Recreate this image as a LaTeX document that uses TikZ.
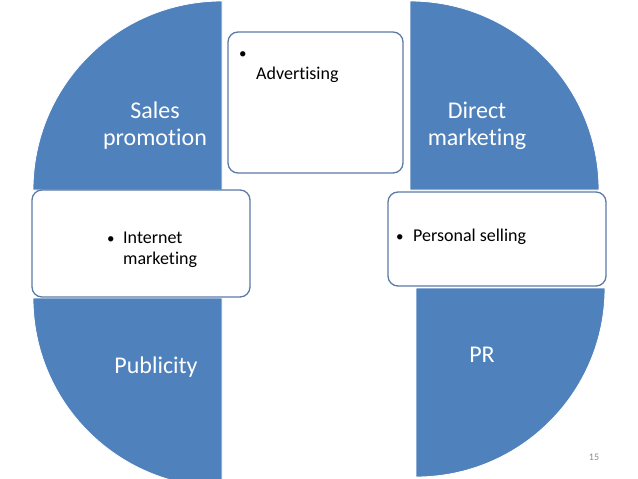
\documentclass[tikz,border=0pt]{standalone}
\usepackage{fontspec}
\setmainfont{Carlito}[Ligatures={NoCommon},RawFeature={-liga;-clig}]
\definecolor{qblue}{RGB}{79,129,189}
\definecolor{bline}{RGB}{92,122,166}
\definecolor{pnum}{RGB}{140,140,140}
\begin{document}
\begin{tikzpicture}[x=1pt,y=-1pt,
  quarter/.style={fill=qblue,draw=white,line width=0.8pt},
  itembox/.style={draw=bline,fill=white,line width=1.3pt,rounded corners=10pt},
  bigtext/.style={text=white,font=\fontsize{24}{27}\selectfont,inner sep=0pt,align=center},
  itemtext/.style={text=black,font=\fontsize{18}{21}\selectfont,inner sep=0pt,align=left,anchor=north west}]
\useasboundingbox (0,0) rectangle (638,479);
\clip (0,0) rectangle (638,479);
% quarter circles
\path[quarter] (222,190) -- (33,190) arc[start angle=180,end angle=270,radius=189] -- cycle;
\path[quarter] (410,190) -- (410,1) arc[start angle=270,end angle=360,radius=189] -- cycle;
\path[quarter] (222,298) -- (33,298) arc[start angle=180,end angle=90,radius=189] -- cycle;
\path[quarter] (416,288) -- (605,288) arc[start angle=0,end angle=90,radius=189] -- cycle;
% boxes
\draw[itembox] (228,32) rectangle (403,173);
\draw[itembox] (32,190) rectangle (250,297);
\draw[itembox] (388,192) rectangle (606,286);
% labels
\node[bigtext,anchor=north] (sp) at (155,99.1) {\strut Sales\\\strut promotion};
\node[bigtext,anchor=north] (dm) at (477,99.1) {\strut Direct\\\strut marketing};
\node[bigtext,anchor=base] (pub) at (156,373) {Publicity};
\node[bigtext,anchor=base] (pr) at (482,362) {PR};
\node[itemtext] (adv) at (239,43.3) {\strut\makebox[17pt][l]{\fontsize{15}{21}\selectfont•}\\\hspace*{17pt}Advertising};
\node[itemtext] (im) at (107,228.3) {\strut\makebox[16pt][l]{\fontsize{15}{21}\selectfont•}Internet\\\hspace*{16pt}marketing};
\node[itemtext] (ps) at (396,226.3) {\strut\makebox[17pt][l]{\fontsize{15}{21}\selectfont•}Personal selling};
\node[text=pnum,font=\fontsize{10}{12}\selectfont,inner sep=0pt] (num) at (594,457) {15};
\end{tikzpicture}
\end{document}
